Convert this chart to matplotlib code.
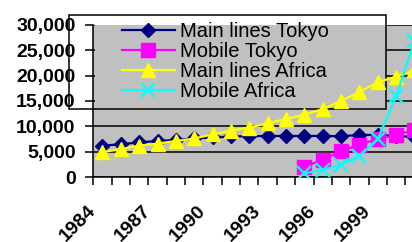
import matplotlib
matplotlib.use("Agg")
import matplotlib.pyplot as plt
from matplotlib.patches import Rectangle
import numpy as np

plt.rcParams['font.family'] = ['Liberation Sans', 'DejaVu Sans']

# data
years = list(range(1984, 2002))
main_tokyo = [6200, 6450, 6850, 7100, 7300, 7600, 7800, 8000, 8050,
              8100, 8100, 8100, 8100, 8050, 8300, 8300, 8100, 7900]
main_africa = [4900, 5500, 6200, 6600, 7100, 7600, 8400, 9150, 9750,
               10600, 11450, 12300, 13400, 15000, 16800, 18700, 19800, 21100]
mobile_years = list(range(1995, 2002))
mobile_tokyo = [2000, 3400, 5100, 6400, 7500, 8300, 9300]
mobile_africa = [700, 1400, 2400, 4200, 7500, 15900, 26800]
series_names = ["Main lines Tokyo", "Mobile Tokyo", "Main lines Africa", "Mobile Africa"]
label_years = [1984, 1987, 1990, 1993, 1996, 1999]
y_ticks = [0, 5000, 10000, 15000, 20000, 25000, 30000]

W, H = 412, 242
GRAY = '#C0C0C0'


def fig_rect(x0, top, x1, bottom):
    # pixel box (y measured from the top) -> figure fraction
    return x0 / W, (H - bottom) / H, (x1 - x0) / W, (bottom - top) / H


fig = plt.figure(figsize=(W / 100, H / 100), dpi=100)
# plot area runs past the right edge of the picture, like the original crop
ax = fig.add_axes(fig_rect(93.3, 25, 423.6, 177))
ax.set_facecolor(GRAY)

x = np.array(years) - years[0]
mx = np.array(mobile_years) - years[0]

l1, = ax.plot(x, main_tokyo, color='#000080', marker='D', ms=7, lw=1.6, zorder=3)
l2, = ax.plot(mx, mobile_tokyo, color='#FF00FF', marker='s', ms=10, lw=1.6, zorder=3)
l3, = ax.plot(x, main_africa, color='#FFFF00', marker='^', ms=10.5, lw=1.6, zorder=3)
l4, = ax.plot(mx, mobile_africa, color='#00FFFF', marker='x', ms=10, mew=1.6, lw=1.6, zorder=3)

ax.set_xlim(-0.5, len(years) - 0.5)
ax.set_ylim(0, 30000)

for s in ['top', 'right']:
    ax.spines[s].set_visible(False)
for s in ['left', 'bottom']:
    ax.spines[s].set_linewidth(1.1)
    ax.spines[s].set_color('black')

ax.set_axisbelow(True)
ax.yaxis.grid(True, color='black', lw=1.1)

ax.set_yticks(y_ticks, labels=[f"{v:,}" for v in y_ticks], fontsize=14, fontweight='bold')
ax.tick_params(axis='y', length=5.8, width=1.1, pad=7)

# ticks on category boundaries, labels every third year (anchored at the left boundary)
ax.xaxis.remove_overlapping_locs = False
ax.set_xticks(np.arange(-0.5, len(years), 1), labels=[])
ax.set_xticks([y - years[0] - 0.5 for y in label_years], labels=[str(y) for y in label_years],
              minor=True, fontsize=14, fontweight='bold', rotation=45,
              ha='right', va='center', rotation_mode='anchor')
ax.tick_params(axis='x', which='major', length=5.5, width=1.1)
ax.tick_params(axis='x', which='minor', length=0, pad=22.5)

# legend box: hides the gridlines, lines still pass over it
gb = fig_rect(94.5, 25, 386, 109)
ax.add_patch(Rectangle(gb[:2], gb[2], gb[3], transform=fig.transFigure,
                       fc=GRAY, ec='none', clip_on=False, zorder=1))
bx = fig_rect(69, 15, 386, 109)
ax.add_patch(Rectangle(bx[:2], bx[2], bx[3], transform=fig.transFigure, fill=False,
                       ec='black', lw=1.1, clip_on=False, zorder=1.5))

ax.legend([l1, l2, l3, l4], series_names, loc='upper left',
          bbox_to_anchor=(121.7 / W, (H - 22) / H), bbox_transform=fig.transFigure,
          frameon=False, borderpad=0, borderaxespad=0, handlelength=2.64,
          handletextpad=0.25, labelspacing=0.05, prop={'size': 14.5})

fig.savefig('out.png', dpi=100)
